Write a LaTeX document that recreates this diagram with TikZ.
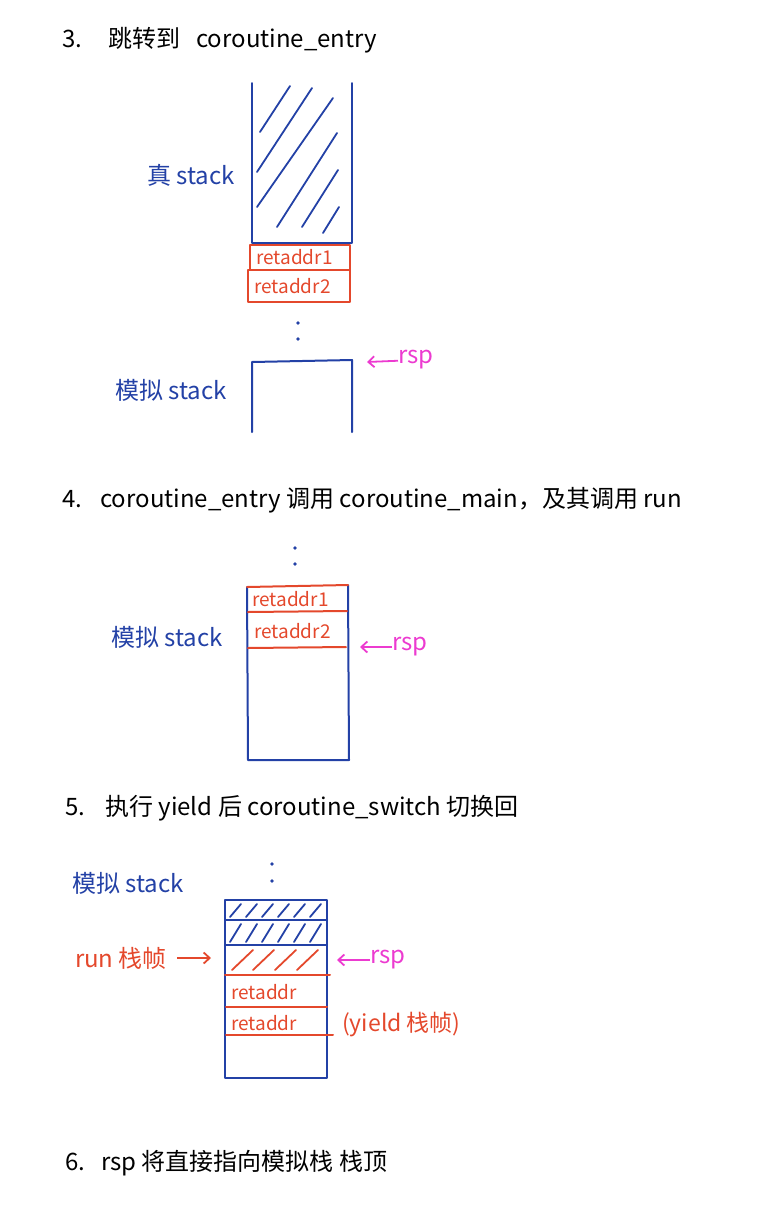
\documentclass[tikz,border=0pt]{standalone}
\usepackage{fontspec}
\setmainfont{Noto Sans CJK SC}
\usetikzlibrary{arrows.meta,positioning}
\definecolor{inkblue}{HTML}{2341A6}
\definecolor{inkred}{HTML}{E4482C}
\definecolor{inkpink}{HTML}{EC3BD0}
\tikzset{
  steptitle/.style={anchor=west, inner sep=0pt, font=\fontsize{24}{28}\selectfont},
  stacklbl/.style={inner sep=0pt, text=inkblue, font=\fontsize{24}{28}\selectfont},
  slotlbl/.style={anchor=west, inner sep=0pt, text=inkred, font=\fontsize{19}{22}\selectfont},
  rsplbl/.style={anchor=west, inner sep=0pt, text=inkpink, font=\fontsize{24}{28}\selectfont},
  stackline/.style={draw=inkblue, line width=2pt, line cap=round, line join=round},
  slotline/.style={draw=inkred, line width=2pt, line cap=round, line join=round},
  hatchblue/.style={draw=inkblue, line width=1.8pt, line cap=round},
  hatchred/.style={draw=inkred, line width=1.8pt, line cap=round},
  rsparrow/.style={-{Straight Barb[length=6pt,width=11pt]}, draw=inkpink, line width=1.8pt},
  runarrow/.style={-{Straight Barb[length=6pt,width=11pt]}, draw=inkred, line width=1.8pt},
}

\begin{document}
\begin{tikzpicture}[x=1pt, y=-1pt]
  \useasboundingbox (0,0) rectangle (762,1216);

  % step 3
  \node[steptitle] (t3) at (62,40) {3.\hspace{26pt}跳转到\hspace{16pt}coroutine\_entry};
  \draw[stackline] (252,83) -- (252,243) -- (352,243) -- (352,83);
  \foreach \xa/\ya/\xb/\yb in {260/132/290/86, 257/172/312/88, 257/207/333/98,
                               277/227/337/133, 302/227/338/170, 323/233/339/207}
    \draw[hatchblue] (\xa,\ya) -- (\xb,\yb);
  \draw[slotline] (250,245) rectangle (350,270);
  \draw[slotline] (248,270) rectangle (350,302);
  \node[slotlbl] (ra1) at (256,257) {retaddr1};
  \node[slotlbl] (ra2) at (254,286) {retaddr2};
  \node[stacklbl] (realst) at (191,175) {真 stack};
  \fill[inkblue] (298,323) circle (1.8) (298,339) circle (1.8);
  \draw[stackline] (252,432) -- (252,362) -- (352,360) -- (352,432);
  \node[stacklbl] (simst) at (171,390) {模拟 stack};
  \node[rsplbl] (rspa) at (398,360) {rsp};
  \coordinate (tipa) at (367,362);
  \draw[rsparrow] (rspa) -- (tipa);

  % step 4
  \node[steptitle] (t4) at (62,500) {4.\hspace{18pt}coroutine\_entry 调用 coroutine\_main，及其调用 run};
  \fill[inkblue] (295,548) circle (1.8) (295,564) circle (1.8);
  \draw[stackline] (247,587) -- (248,760) -- (349,760) -- (348,585);
  \draw[slotline] (247,587) -- (348,585);
  \draw[slotline] (248,612) -- (347,611);
  \draw[slotline] (248,648) -- (346,647);
  \node[slotlbl] (rb1) at (252,599) {retaddr1};
  \node[slotlbl] (rb2) at (254,631) {retaddr2};
  \node[stacklbl] (simstb) at (167,637) {模拟 stack};
  \node[rsplbl] (rspb) at (392,647) {rsp};
  \coordinate (tipb) at (360,647);
  \draw[rsparrow] (rspb) -- (tipb);

  % step 5
  \node[steptitle] (t5) at (65,808) {5.\hspace{20pt}执行 yield 后 coroutine\_switch 切换回};
  \fill[inkblue] (272,864) circle (1.8) (272,881) circle (1.8);
  \node[stacklbl] (simstc) at (128,883) {模拟 stack};
  \draw[stackline] (225,900) rectangle (327,1078);
  \draw[stackline] (225,920) -- (327,920);
  \draw[stackline] (225,945) -- (327,945);
  \foreach \x in {230,246,262,278,294,310}
    \draw[hatchblue] (\x,917) -- (\x+11,904) (\x,942) -- (\x+11,924);
  \foreach \x in {232,253,275,297}
    \draw[hatchred] (\x,970) -- (\x+21,950);
  \draw[slotline] (225,975) -- (330,975);
  \draw[slotline] (226,1007) -- (327,1007);
  \draw[slotline] (226,1035) -- (333,1035);
  \node[slotlbl] (rc1) at (231,992) {retaddr};
  \node[slotlbl] (rc2) at (231,1023) {retaddr};
  \node[slotlbl, font=\fontsize{23}{27}\selectfont] (yldfr) at (342,1025) {(yield 栈帧)};
  \node[stacklbl, text=inkred] (runfr) at (121,958) {run 栈帧};
  \coordinate (runtip) at (211,958);
  \draw[runarrow, shorten <=10pt] (runfr) -- (runtip);
  \node[rsplbl] (rspc) at (370,960) {rsp};
  \coordinate (tipc) at (337,960);
  \draw[rsparrow] (rspc) -- (tipc);

  % step 6
  \node[steptitle] (t6) at (65,1163) {6.\hspace{16pt}rsp 将直接指向模拟栈 栈顶};
\end{tikzpicture}
\end{document}
